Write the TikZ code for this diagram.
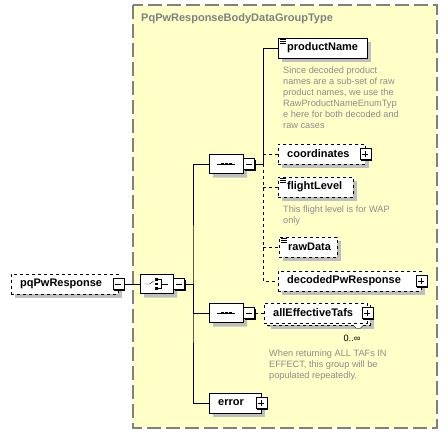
\documentclass[tikz,border=0pt]{standalone}
\usepackage{fontspec}
\setmainfont{Liberation Sans}
\usetikzlibrary{positioning,shapes.misc,shadows}
\definecolor{groupfill}{HTML}{FFFFC8}
\definecolor{groupline}{HTML}{808080}
\definecolor{notegray}{HTML}{8C8C8C}
\tikzset{
  elem/.style={draw, fill=white, anchor=west, minimum height=20pt, inner xsep=9pt, inner ysep=0pt,
    text width=#1, align=left, font=\fontsize{11}{13}\selectfont\bfseries,
    drop shadow={shadow xshift=4pt, shadow yshift=-4pt, fill=black!25, opacity=1}},
  optelem/.style={elem=#1, dashed},
  pmbox/.style={draw, fill=white, solid, minimum size=11pt, inner sep=0pt,
    drop shadow={shadow xshift=1pt, shadow yshift=-1pt, fill=black, opacity=1}},
  minusbox/.style={pmbox, path picture={
    \draw ([xshift=2.5pt]path picture bounding box.west) -- ([xshift=-2.5pt]path picture bounding box.east);}},
  plusbox/.style={pmbox, path picture={
    \draw ([xshift=2.5pt]path picture bounding box.west) -- ([xshift=-2.5pt]path picture bounding box.east);
    \draw ([yshift=-2.5pt]path picture bounding box.north) -- ([yshift=2.5pt]path picture bounding box.south);}},
  compositor/.style={chamfered rectangle, chamfered rectangle xsep=5pt, draw, fill=white, anchor=west,
    minimum width=34pt, minimum height=19pt, inner sep=0pt,
    drop shadow={shadow xshift=4pt, shadow yshift=-4pt, fill=black!25, opacity=1}},
  note/.style={anchor=north west, inner sep=0pt, align=left, text=notegray,
    font=\fontsize{9.2}{11}\selectfont}
}

\begin{document}
\begin{tikzpicture}[x=1pt,y=-1pt]
\useasboundingbox (0,0) rectangle (448,434);

% group box
\draw[groupline, fill=groupfill, line width=2pt, dash pattern=on 14pt off 5pt] (133,5) rectangle (437,428);
\node[anchor=west, inner sep=0pt, text=groupline, font=\fontsize{11}{13}\selectfont\bfseries] (title) at (141,19) {PqPwResponseBodyDataGroupType};

% root and choice
\node[optelem=89pt] (resp) at (11,284) {pqPwResponse};
\node[minusbox] (resppm) at (resp.east) {};
\node[compositor, minimum width=33pt] (choice) at (140,284) {};
\node[minusbox, right=0pt of choice] (choicepm) {};

% sequences and children
\node[compositor] (seq1) at (209,164) {};
\node[minusbox, right=0pt of seq1] (seq1pm) {};
\node[compositor] (seq2) at (209,313) {};
\node[minusbox, right=0pt of seq2] (seq2pm) {};
\node[elem=34pt] (error) at (209,403) {error};
\node[plusbox] (errorpm) at (error.east) {};

\node[elem=71pt] (pname) at (278,48) {productName};
\node[note, below right=8pt and 5pt of pname.south west] (pnamenote) {Since decoded product\\names are a sub-set of raw\\product names, we use the\\RawProductNameEnumTyp\\e here for both decoded and\\raw cases};
\node[optelem=69pt] (coords) at (278,154) {coordinates};
\node[plusbox] (coordspm) at (coords.east) {};
\node[optelem=57pt] (flevel) at (278,187) {flightLevel};
\node[note, below right=8pt and 5pt of flevel.south west] (flevelnote) {This flight level is for WAP\\only};
\node[optelem=40pt] (rawdata) at (279,247) {rawData};
\node[optelem=125pt] (decoded) at (278,281) {decodedPwResponse};
\node[plusbox] (decodedpm) at (decoded.east) {};

\node[optelem=85pt, drop shadow={shadow xshift=7pt, shadow yshift=-6pt, fill=black!25, opacity=1},
  copy shadow={shadow xshift=3pt, shadow yshift=-2pt, draw=black, fill=white, dashed}] (tafs) at (264,313) {allEffectiveTafs};
\node[plusbox] (tafspm) at (tafs.east) {};
\node[inner sep=0pt, font=\fontsize{9.2}{11}\selectfont] (tafsocc) at (352,338) {0..∞};
\node[note, below right=26pt and 5pt of tafs.south west] (tafsnote) {When returning ALL TAFs IN\\EFFECT, this group will be\\populated repeatedly.};
\draw[fill=white] ([shift={(-14pt,-2pt)}]tafs.south east) -- ++(3,3) -- ++(4,0) -- ++(3,-3);

% annotation marks
\foreach \n in {pname,flevel,rawdata}
  \foreach \d in {2,4,6}
    \draw[line width=0.7pt] ([shift={(2pt,-\d pt)}]\n.north west) -- ++(6,0);

% compositor icons
\foreach \n in {seq1,seq2} {
  \draw ([xshift=-9pt]\n.center) -- ([xshift=9pt]\n.center);
  \foreach \d in {-4,0,4}
    \fill ([xshift=\d pt]\n.center) +(-1.3,-1.3) rectangle +(1.3,1.3);
}
\draw ([xshift=-12pt]choice.center) -- ([xshift=-7pt]choice.center) -- ([shift={(-3pt,3pt)}]choice.center);
\foreach \d in {-4.5,0,4.5}
  \fill ([shift={(0pt,\d pt)}]choice.center) +(-1.3,-1.3) rectangle +(1.3,1.3);
\draw ([shift={(1pt,4.5pt)}]choice.center) -- ++(3,0) -- ++(0,9) -- ++(-3,0);
\draw ([xshift=4pt]choice.center) -- ([xshift=11pt]choice.center);

% connectors
\coordinate (trunk) at (193,284);
\coordinate (seqbus) at (263,164);
\draw (resppm.east) -- (choice.west);
\draw (choicepm.east) -- (trunk);
\draw (seq1.west) -| (trunk) |- (error.west);
\draw (trunk) |- (seq2.west);
\draw (seq1pm.east) -- (seqbus) |- (pname.west);
\draw[dashed] (seqbus) |- (decoded.west);
\foreach \n in {coords,flevel,rawdata}
  \draw[dashed] (seqbus |- \n.west) -- (\n.west);
\draw[dashed] (seq2pm.east) -- (tafs.west);
\end{tikzpicture}
\end{document}
